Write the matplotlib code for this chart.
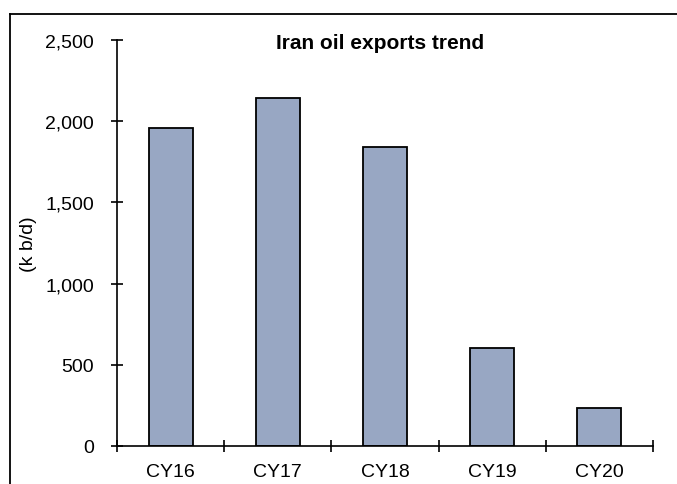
import matplotlib
matplotlib.use("Agg")
import matplotlib.pyplot as plt
from matplotlib.lines import Line2D
from matplotlib.ticker import FuncFormatter

years = ["CY16", "CY17", "CY18", "CY19", "CY20"]
exports = [1960, 2140, 1840, 605, 235]   # k b/d

plt.rcParams["font.family"] = ["Liberation Sans", "DejaVu Sans"]

fig = plt.figure(figsize=(6.77, 4.85), dpi=100)
ax = fig.add_axes([0.1728, 0.0784, 0.7917, 0.8371])

x = range(len(years))
ax.bar(x, exports, width=0.41, color="#98a7c3", edgecolor="black", linewidth=1.3)

ax.set_xlim(-0.5, len(years) - 0.5)
ax.set_ylim(0, 2500)
ax.set_yticks([0, 500, 1000, 1500, 2000, 2500])
ax.yaxis.set_major_formatter(FuncFormatter(lambda v, p: f"{int(v):,}"))

# category boundaries get the tick marks, names sit in between
ax.set_xticks([i - 0.5 for i in range(len(years) + 1)])
ax.set_xticklabels([])
ax.set_xticks(list(x), minor=True)
ax.set_xticklabels(years, minor=True)
ax.tick_params(axis="x", which="minor", length=0, pad=12, labelsize=14)
ax.tick_params(axis="x", which="major", direction="inout", length=9, width=1.2)
ax.tick_params(axis="y", direction="inout", length=9, width=1.2, labelsize=14, pad=12)

for s in ["top", "right"]:
    ax.spines[s].set_visible(False)
for s in ["left", "bottom"]:
    ax.spines[s].set_linewidth(1.2)

ax.set_ylabel("(k b/d)", fontsize=14, labelpad=6)
ax.text(0.49, 0.995, "Iran oil exports trend", transform=ax.transAxes,
        ha="center", va="center", fontsize=15, fontweight="bold")

# outer frame, cut off at the right and bottom
fig.add_artist(Line2D([9.5 / 677, 1], [1 - 14.5 / 485, 1 - 14.5 / 485],
                      transform=fig.transFigure, color="black", lw=1.3))
fig.add_artist(Line2D([9.5 / 677, 9.5 / 677], [0, 1 - 14.5 / 485],
                      transform=fig.transFigure, color="black", lw=1.3))

fig.savefig("out.png", dpi=100)
